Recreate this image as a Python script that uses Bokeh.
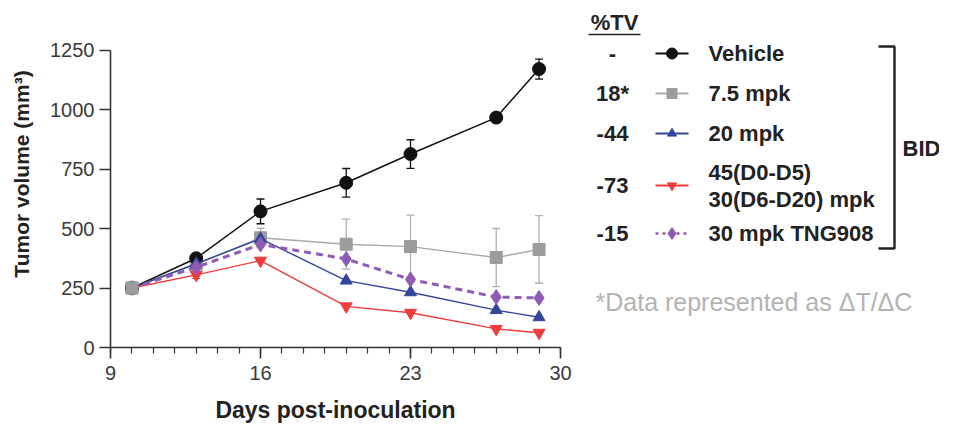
from bokeh.plotting import figure
from bokeh.layouts import row
from bokeh.models import ColumnDataSource, Whisker, TeeHead, FixedTicker, Range1d
from bokeh.core.properties import value
from bokeh.embed import file_html
from bokeh.resources import INLINE

# ---- data ----
days = [10, 13, 16, 20, 23, 27, 29]
vehicle = [250, 375, 572, 692, 813, 966, 1170]
vehicle_err = [0, 18, 52, 60, 60, 14, 42]
mpk7_5 = [250, 350, 461, 434, 424, 378, 412]
mpk7_5_err = [0, 18, 40, 105, 132, 122, 142]
mpk20 = [250, 352, 457, 281, 232, 157, 127]
mpk45_30 = [250, 305, 365, 173, 146, 78, 62]
mpk45_30_err = [0, 15, 0, 0, 0, 0, 0]
tng908 = [250, 337, 433, 372, 286, 212, 208]

x_ticks = [9, 16, 23, 30]
y_ticks = [0, 250, 500, 750, 1000, 1250]

legend_labels = ["Vehicle", "7.5 mpk", "20 mpk", ["45(D0-D5)", "30(D6-D20) mpk"], "30 mpk TNG908"]
tv_values = ["-", "18*", "-44", "-73", "-15"]
footnote = "*Data represented as \u0394T/\u0394C"

FONT = value("Liberation Sans")
C_VEH = "#111111"
C_GRAY = "#9c9c9c"
C_GRAY_LINE = "#aaaaaa"
C_BLUE = "#34469c"
C_RED = "#ee3b3b"
C_PURP = "#8f5bb4"
C_TEXT = "#222222"

H = 411
FRAME_H = 347          # frame spans the full upper area; axis is bounded to 0..1250
AXIS_TOP_PX = 49.5     # pixel row of the 1250 tick
y_max = y_ticks[-1] * FRAME_H / (FRAME_H - AXIS_TOP_PX)

# ---- main plot ----
p = figure(width=578, height=H, frame_width=450, frame_height=FRAME_H,
           min_border_left=110, min_border_top=0, min_border_right=18, min_border_bottom=H - FRAME_H,
           x_range=Range1d(9, 30), y_range=Range1d(0, y_max),
           output_backend="svg", toolbar_location=None)
p.outline_line_color = None
p.grid.grid_line_color = None
p.background_fill_color = "white"
p.border_fill_color = "white"

p.xaxis.ticker = FixedTicker(ticks=x_ticks, minor_ticks=list(range(9, 31)))
p.yaxis.ticker = FixedTicker(ticks=y_ticks, minor_ticks=[])
p.yaxis.bounds = (y_ticks[0], y_ticks[-1])
for ax in (p.xaxis, p.yaxis):
    ax.axis_line_color = "#333333"
    ax.axis_line_width = 1.6
    ax.major_tick_line_color = "#333333"
    ax.major_tick_line_width = 1.6
    ax.major_tick_out = 11
    ax.major_tick_in = 0
    ax.minor_tick_line_color = "#333333"
    ax.minor_tick_line_width = 1.2
    ax.minor_tick_out = 6
    ax.minor_tick_in = 0
    ax.major_label_text_font = "Liberation Sans"
    ax.major_label_text_font_size = "20px"
    ax.major_label_text_color = "#3a3a3a"
    ax.axis_label_text_font = "Liberation Sans"
    ax.axis_label_text_font_style = "bold"
    ax.axis_label_text_color = C_TEXT
p.xaxis.axis_label_text_font_size = "23px"
p.yaxis.axis_label_text_font_size = "21px"
p.xaxis.axis_label = "Days post-inoculation"
p.yaxis.axis_label = "Tumor volume (mm\u00b3)"
p.xaxis.major_label_standoff = 7
p.yaxis.major_label_standoff = 5
p.xaxis.axis_label_standoff = 14
p.yaxis.axis_label_standoff = 14

def err_source(vals, errs):
    return ColumnDataSource(dict(x=days, upper=[v + e for v, e in zip(vals, errs)],
                                 lower=[v - e for v, e in zip(vals, errs)]))

def add_whisker(vals, errs, color, width):
    w = Whisker(source=err_source(vals, errs), base="x", upper="upper", lower="lower",
                dimension="height", line_color=color, line_width=width,
                upper_head=TeeHead(size=8, line_color=color, line_width=width),
                lower_head=TeeHead(size=8, line_color=color, line_width=width))
    p.add_layout(w)

add_whisker(mpk7_5, mpk7_5_err, "#b0b0b0", 1.3)
add_whisker(vehicle, vehicle_err, C_VEH, 1.3)
add_whisker(mpk45_30, mpk45_30_err, C_RED, 1.2)

# series
p.line(days, mpk7_5, line_color=C_GRAY_LINE, line_width=1.4)
p.scatter(days, mpk7_5, marker="square", size=12, fill_color=C_GRAY, line_color=C_GRAY)
p.line(days, vehicle, line_color=C_VEH, line_width=1.5)
p.scatter(days, vehicle, marker="circle", size=13, fill_color=C_VEH, line_color=C_VEH)
p.line(days, mpk20, line_color=C_BLUE, line_width=1.4)
p.scatter(days, mpk20, marker="triangle", size=12, fill_color=C_BLUE, line_color=C_BLUE)
p.line(days, mpk45_30, line_color=C_RED, line_width=1.4)
p.scatter(days, mpk45_30, marker="inverted_triangle", size=12, fill_color=C_RED, line_color=C_RED)
p.line(days, tng908, line_color=C_PURP, line_width=3, line_dash="7 5")
p.scatter(days, tng908, marker="diamond", size=15, fill_color=C_PURP, line_color=C_PURP)
# first-day gray square sits on top in the original
p.scatter(days[:1], mpk7_5[:1], marker="square", size=12, fill_color=C_GRAY, line_color=C_GRAY)

# ---- legend panel (pixel coordinates, y downward) ----
LW = 939 - 578
q = figure(width=LW, height=H, frame_width=LW, frame_height=FRAME_H,
           min_border_left=0, min_border_right=0, min_border_top=0, min_border_bottom=H - FRAME_H,
           x_range=Range1d(0, LW), y_range=Range1d(FRAME_H, 0),
           output_backend="svg", toolbar_location=None)
q.axis.visible = False
q.grid.grid_line_color = None
q.outline_line_color = None
q.background_fill_color = "white"
q.border_fill_color = "white"

row_y = [53, 93, 133, 185, 233]
colors = [C_VEH, C_GRAY, C_BLUE, C_RED, C_PURP]
line_colors = [C_VEH, C_GRAY_LINE, C_BLUE, C_RED, C_PURP]
markers = ["circle", "square", "triangle", "inverted_triangle", "diamond"]
msizes = [11, 10, 9, 9, 12]
dashes = ["solid", "solid", "solid", "solid", "3 4"]

LEG_FS = value("22px")
q.text(x=[36], y=[22], text=["%TV"], text_font=FONT, text_font_size=LEG_FS,
       text_font_style="bold", text_align="center", text_baseline="middle", text_color=C_TEXT)
q.segment(x0=[10], y0=[34], x1=[62], y1=[34], line_color=C_TEXT, line_width=1.6)

q.text(x=[34] * 5, y=row_y, text=tv_values, text_font=FONT, text_font_size=LEG_FS,
       text_font_style="bold", text_align="center", text_baseline="middle", text_color=C_TEXT)

for yv, c, lc, m, s, d in zip(row_y, colors, line_colors, markers, msizes, dashes):
    q.segment(x0=[77], y0=[yv], x1=[110], y1=[yv], line_color=lc,
              line_width=2 if d == "solid" else 2.5, line_dash=d)
    q.scatter(x=[93.5], y=[yv], marker=m, size=s, fill_color=c, line_color=c)

lab_x, lab_y, lab_t = [], [], []
for yv, lab in zip(row_y, legend_labels):
    if isinstance(lab, list):
        lab_x += [130, 130]
        lab_y += [yv - 13, yv + 14]
        lab_t += lab
    else:
        lab_x.append(130)
        lab_y.append(yv)
        lab_t.append(lab)
q.text(x=lab_x, y=lab_y, text=lab_t, text_font=FONT, text_font_size=LEG_FS,
       text_font_style="bold", text_align="left", text_baseline="middle", text_color=C_TEXT)

# bracket
q.multi_line(xs=[[300, 316, 316, 300]], ys=[[46, 46, 248, 248]], line_color=C_TEXT, line_width=2.4)
q.text(x=[324], y=[148], text=["BID"], text_font=FONT, text_font_size=LEG_FS,
       text_font_style="bold", text_align="left", text_baseline="middle", text_color=C_TEXT)

q.text(x=[17], y=[301], text=[footnote], text_font=FONT, text_font_size=value("25px"),
       text_align="left", text_baseline="middle", text_color="#b3b3b3")

layout = row(p, q)
open("out.html", "w").write(file_html(layout, INLINE))
